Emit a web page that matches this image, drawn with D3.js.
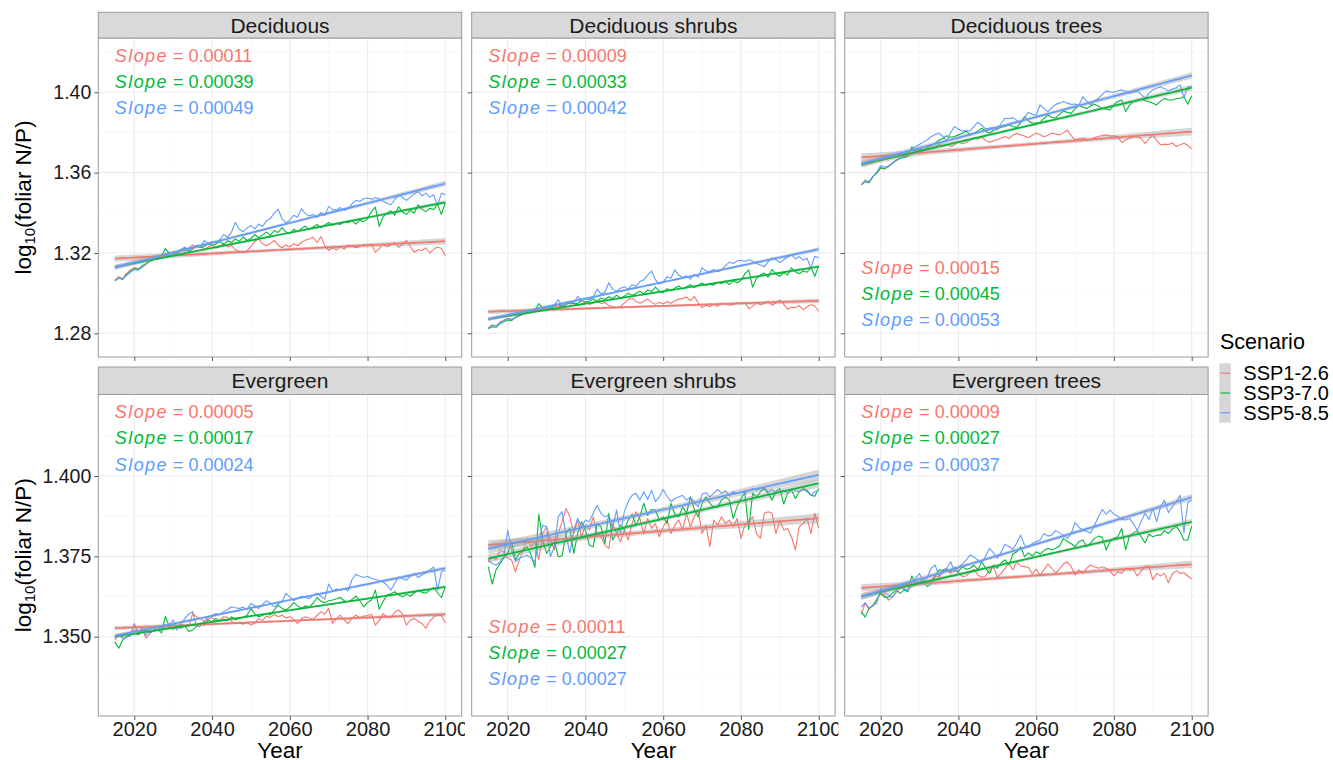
<!DOCTYPE html>
<html>
<head>
<meta charset="utf-8">
<script src="https://cdn.jsdelivr.net/npm/d3@7"></script>
<style>
  body { margin: 0; background: #fff; }
  svg text { font-family: "Liberation Sans", Arial, sans-serif; }
</style>
</head>
<body>
<div id="chart"></div>
<script>
// ---- data ----
var years = d3.range(2015, 2101);

var facetNames = ["Deciduous", "Deciduous shrubs", "Deciduous trees",
                  "Evergreen", "Evergreen shrubs", "Evergreen trees"];
var scenarios = ["SSP1-2.6", "SSP3-7.0", "SSP5-8.5"];

var slopeLabels = [
  ["0.00011", "0.00039", "0.00049"],
  ["0.00009", "0.00033", "0.00042"],
  ["0.00015", "0.00045", "0.00053"],
  ["0.00005", "0.00017", "0.00024"],
  ["0.00011", "0.00027", "0.00027"],
  ["0.00009", "0.00027", "0.00037"]
];

var xTicks = [2020, 2040, 2060, 2080, 2100];
var xMinor = [2030, 2050, 2070, 2090];
var row1Ticks = [1.28, 1.32, 1.36, 1.40];
var row1Labels = ["1.28", "1.32", "1.36", "1.40"];
var row1Minor = [1.30, 1.34, 1.38, 1.42];
var row2Ticks = [1.350, 1.375, 1.400];
var row2Labels = ["1.350", "1.375", "1.400"];
var row2Minor = [1.3375, 1.3625, 1.3875, 1.4125];

var deciduous_126 = [1.3064,1.3082,1.3072,1.3098,1.3115,1.3128,1.3122,1.3128,1.3142,1.3158,
  1.3166,1.3175,1.3186,1.3192,1.3200,1.3196,1.3206,1.3214,1.3208,1.3224,
  1.3240,1.3228,1.3236,1.3220,1.3228,1.3238,1.3224,1.3232,1.3246,1.3230,
  1.3238,1.3216,1.3208,1.3202,1.3210,1.3232,1.3258,1.3270,1.3246,1.3236,
  1.3248,1.3262,1.3240,1.3226,1.3240,1.3230,1.3246,1.3236,1.3252,1.3264,
  1.3270,1.3278,1.3252,1.3282,1.3238,1.3212,1.3226,1.3214,1.3230,1.3218,
  1.3240,1.3236,1.3226,1.3232,1.3242,1.3238,1.3244,1.3204,1.3220,1.3246,
  1.3230,1.3240,1.3252,1.3228,1.3244,1.3262,1.3232,1.3204,1.3216,1.3212,
  1.3226,1.3200,1.3218,1.3230,1.3222,1.3188];
var deciduous_370 = [1.3062,1.3076,1.3068,1.3092,1.3108,1.3122,1.3118,1.3135,1.3148,1.3160,
  1.3168,1.3176,1.3184,1.3222,1.3198,1.3204,1.3196,1.3212,1.3222,1.3206,
  1.3220,1.3236,1.3226,1.3232,1.3246,1.3238,1.3244,1.3258,1.3242,1.3262,
  1.3252,1.3270,1.3258,1.3280,1.3262,1.3272,1.3292,1.3276,1.3290,1.3304,
  1.3288,1.3312,1.3302,1.3326,1.3304,1.3296,1.3318,1.3306,1.3322,1.3334,
  1.3316,1.3330,1.3342,1.3326,1.3340,1.3352,1.3338,1.3348,1.3342,1.3356,
  1.3350,1.3362,1.3344,1.3364,1.3356,1.3370,1.3406,1.3428,1.3332,1.3380,
  1.3398,1.3410,1.3388,1.3430,1.3404,1.3392,1.3412,1.3398,1.3440,1.3418,
  1.3406,1.3422,1.3416,1.3442,1.3392,1.3450];
var deciduous_585 = [1.3060,1.3074,1.3070,1.3088,1.3104,1.3118,1.3114,1.3130,1.3146,1.3158,
  1.3172,1.3168,1.3182,1.3196,1.3190,1.3206,1.3198,1.3218,1.3230,1.3212,
  1.3222,1.3236,1.3228,1.3262,1.3248,1.3256,1.3252,1.3266,1.3292,1.3278,
  1.3304,1.3352,1.3318,1.3306,1.3324,1.3336,1.3320,1.3344,1.3332,1.3360,
  1.3372,1.3398,1.3418,1.3370,1.3350,1.3362,1.3388,1.3378,1.3420,1.3396,
  1.3384,1.3392,1.3376,1.3402,1.3386,1.3432,1.3416,1.3414,1.3426,1.3412,
  1.3420,1.3444,1.3462,1.3456,1.3470,1.3474,1.3468,1.3476,1.3470,1.3458,
  1.3448,1.3440,1.3466,1.3488,1.3476,1.3462,1.3478,1.3494,1.3506,1.3484,
  1.3498,1.3478,1.3490,1.3436,1.3498,1.3490];

var decShrubs_126 = [1.2827,1.2842,1.2836,1.2856,1.2866,1.2874,1.2870,1.2878,1.2886,1.2896,
  1.2900,1.2906,1.2914,1.2918,1.2924,1.2920,1.2928,1.2934,1.2930,1.2942,
  1.2954,1.2946,1.2950,1.2940,1.2946,1.2954,1.2944,1.2950,1.2960,1.2948,
  1.2954,1.2938,1.2932,1.2928,1.2934,1.2950,1.2968,1.2976,1.2958,1.2950,
  1.2960,1.2970,1.2954,1.2944,1.2954,1.2946,1.2958,1.2950,1.2962,1.2970,
  1.2974,1.2980,1.2962,1.2984,1.2952,1.2928,1.2940,1.2932,1.2944,1.2934,
  1.2950,1.2948,1.2940,1.2944,1.2952,1.2948,1.2954,1.2922,1.2934,1.2954,
  1.2942,1.2950,1.2960,1.2940,1.2952,1.2966,1.2944,1.2920,1.2930,1.2928,
  1.2938,1.2918,1.2932,1.2942,1.2936,1.2910];
var decShrubs_370 = [1.2823,1.2832,1.2830,1.2848,1.2858,1.2866,1.2864,1.2878,1.2888,1.2896,
  1.2900,1.2906,1.2912,1.2948,1.2924,1.2930,1.2922,1.2936,1.2944,1.2930,
  1.2942,1.2954,1.2946,1.2950,1.2962,1.2956,1.2960,1.2972,1.2958,1.2976,
  1.2968,1.2982,1.2972,1.2990,1.2976,1.2984,1.3000,1.2988,1.2998,1.3010,
  1.2996,1.3016,1.3008,1.3030,1.3010,1.3002,1.3022,1.3012,1.3026,1.3036,
  1.3020,1.3032,1.3042,1.3028,1.3040,1.3050,1.3038,1.3046,1.3040,1.3054,
  1.3048,1.3058,1.3042,1.3060,1.3052,1.3064,1.3096,1.3116,1.3030,1.3074,
  1.3090,1.3100,1.3080,1.3118,1.3094,1.3084,1.3102,1.3090,1.3126,1.3106,
  1.3096,1.3110,1.3104,1.3128,1.3084,1.3136];
var decShrubs_585 = [1.2826,1.2840,1.2836,1.2850,1.2862,1.2872,1.2868,1.2880,1.2892,1.2900,
  1.2908,1.2904,1.2914,1.2924,1.2918,1.2930,1.2924,1.2940,1.2968,1.2936,
  1.2946,1.2958,1.2950,1.2984,1.2966,1.2972,1.2968,1.2980,1.3020,1.2996,
  1.3004,1.3052,1.3020,1.3010,1.3024,1.3032,1.3020,1.3042,1.3034,1.3058,
  1.3066,1.3090,1.3110,1.3066,1.3046,1.3056,1.3082,1.3074,1.3116,1.3090,
  1.3078,1.3086,1.3070,1.3094,1.3080,1.3126,1.3110,1.3108,1.3118,1.3106,
  1.3114,1.3136,1.3154,1.3148,1.3160,1.3164,1.3158,1.3166,1.3160,1.3148,
  1.3140,1.3132,1.3156,1.3176,1.3166,1.3152,1.3166,1.3180,1.3190,1.3170,
  1.3182,1.3164,1.3174,1.3124,1.3184,1.3176];

var decTrees_126 = [1.3539,1.3563,1.3552,1.3580,1.3600,1.3622,1.3618,1.3635,1.3648,1.3663,
  1.3672,1.3680,1.3686,1.3692,1.3700,1.3705,1.3712,1.3718,1.3722,1.3728,
  1.3740,1.3732,1.3742,1.3730,1.3738,1.3754,1.3744,1.3750,1.3762,1.3772,
  1.3766,1.3778,1.3760,1.3752,1.3758,1.3764,1.3772,1.3780,1.3770,1.3786,
  1.3796,1.3788,1.3782,1.3774,1.3786,1.3796,1.3790,1.3778,1.3786,1.3796,
  1.3792,1.3788,1.3798,1.3812,1.3784,1.3762,1.3770,1.3772,1.3766,1.3762,
  1.3774,1.3780,1.3786,1.3788,1.3782,1.3784,1.3778,1.3750,1.3762,1.3772,
  1.3778,1.3780,1.3770,1.3746,1.3768,1.3788,1.3760,1.3738,1.3742,1.3740,
  1.3748,1.3730,1.3738,1.3746,1.3736,1.3718];
var decTrees_370 = [1.3539,1.3555,1.3550,1.3580,1.3598,1.3625,1.3620,1.3630,1.3646,1.3660,
  1.3671,1.3676,1.3680,1.3729,1.3708,1.3718,1.3712,1.3726,1.3734,1.3746,
  1.3763,1.3770,1.3784,1.3776,1.3780,1.3788,1.3796,1.3807,1.3790,1.3796,
  1.3808,1.3821,1.3806,1.3796,1.3810,1.3817,1.3826,1.3830,1.3837,1.3830,
  1.3824,1.3850,1.3879,1.3858,1.3846,1.3848,1.3851,1.3870,1.3887,1.3876,
  1.3871,1.3890,1.3907,1.3900,1.3895,1.3918,1.3937,1.3926,1.3920,1.3932,
  1.3940,1.3930,1.3920,1.3916,1.3912,1.3940,1.3954,1.3962,1.3904,1.3936,
  1.3954,1.3960,1.3967,1.3958,1.3954,1.3946,1.3937,1.3956,1.3970,1.3962,
  1.3962,1.3968,1.3970,1.3978,1.3940,1.3983];
var decTrees_585 = [1.3539,1.3560,1.3556,1.3580,1.3604,1.3635,1.3628,1.3630,1.3648,1.3663,
  1.3672,1.3680,1.3700,1.3718,1.3730,1.3741,1.3752,1.3764,1.3779,1.3790,
  1.3796,1.3780,1.3758,1.3800,1.3829,1.3816,1.3807,1.3810,1.3807,1.3830,
  1.3851,1.3836,1.3817,1.3822,1.3824,1.3812,1.3846,1.3871,1.3868,1.3874,
  1.3860,1.3846,1.3876,1.3900,1.3890,1.3887,1.3937,1.3920,1.3904,1.3922,
  1.3940,1.3946,1.3954,1.3946,1.3940,1.3942,1.3937,1.3978,1.3956,1.3937,
  1.3958,1.3970,1.3990,1.4007,1.4002,1.4000,1.4006,1.4012,1.4004,1.3995,
  1.4002,1.4007,1.3990,1.3970,1.3996,1.4012,1.4020,1.4028,1.4018,1.4007,
  1.4016,1.4023,1.4037,1.3973,1.4028,1.4028];

var evergreen_126 = [1.3490,1.3505,1.3500,1.3510,1.3514,1.3521,1.3516,1.3526,1.3495,1.3510,
  1.3522,1.3531,1.3528,1.3523,1.3530,1.3536,1.3530,1.3539,1.3534,1.3531,
  1.3572,1.3562,1.3556,1.3547,1.3555,1.3560,1.3550,1.3552,1.3562,1.3560,
  1.3548,1.3541,1.3545,1.3539,1.3544,1.3536,1.3542,1.3557,1.3550,1.3564,
  1.3560,1.3570,1.3562,1.3567,1.3558,1.3562,1.3554,1.3541,1.3556,1.3562,
  1.3558,1.3554,1.3566,1.3578,1.3570,1.3588,1.3541,1.3556,1.3567,1.3552,
  1.3541,1.3558,1.3567,1.3560,1.3564,1.3566,1.3570,1.3536,1.3550,1.3572,
  1.3562,1.3560,1.3576,1.3583,1.3570,1.3536,1.3552,1.3557,1.3548,1.3541,
  1.3526,1.3548,1.3562,1.3566,1.3567,1.3543];
var evergreen_370 = [1.3484,1.3464,1.3490,1.3500,1.3506,1.3510,1.3506,1.3516,1.3520,1.3512,
  1.3518,1.3523,1.3512,1.3564,1.3531,1.3523,1.3530,1.3526,1.3534,1.3516,
  1.3521,1.3532,1.3541,1.3536,1.3552,1.3546,1.3557,1.3548,1.3554,1.3550,
  1.3562,1.3552,1.3557,1.3560,1.3567,1.3588,1.3570,1.3562,1.3566,1.3572,
  1.3568,1.3583,1.3598,1.3588,1.3583,1.3592,1.3606,1.3596,1.3588,1.3596,
  1.3593,1.3604,1.3622,1.3610,1.3606,1.3612,1.3614,1.3618,1.3622,1.3612,
  1.3609,1.3616,1.3626,1.3612,1.3593,1.3606,1.3614,1.3645,1.3585,1.3610,
  1.3629,1.3634,1.3640,1.3630,1.3624,1.3632,1.3626,1.3636,1.3645,1.3638,
  1.3635,1.3644,1.3653,1.3636,1.3622,1.3655];
var evergreen_585 = [1.3495,1.3508,1.3495,1.3498,1.3502,1.3541,1.3510,1.3521,1.3505,1.3519,
  1.3516,1.3523,1.3528,1.3531,1.3538,1.3552,1.3521,1.3541,1.3556,1.3570,
  1.3578,1.3531,1.3533,1.3548,1.3562,1.3566,1.3572,1.3568,1.3578,1.3584,
  1.3593,1.3590,1.3588,1.3592,1.3585,1.3603,1.3596,1.3588,1.3600,1.3612,
  1.3604,1.3593,1.3602,1.3609,1.3635,1.3624,1.3612,1.3620,1.3626,1.3622,
  1.3619,1.3628,1.3635,1.3626,1.3616,1.3664,1.3643,1.3648,1.3645,1.3650,
  1.3643,1.3678,1.3694,1.3688,1.3684,1.3688,1.3682,1.3678,1.3674,1.3671,
  1.3660,1.3645,1.3666,1.3686,1.3680,1.3676,1.3688,1.3697,1.3684,1.3692,
  1.3699,1.3708,1.3717,1.3645,1.3702,1.3707];

var evgShrubs_126 = [1.3733,1.3749,1.3739,1.3770,1.3764,1.3744,1.3739,1.3702,1.3739,1.3770,
  1.3806,1.3780,1.3796,1.3739,1.3821,1.3842,1.3801,1.3770,1.3821,1.3858,
  1.3899,1.3873,1.3821,1.3863,1.3811,1.3847,1.3832,1.3873,1.3821,1.3811,
  1.3785,1.3775,1.3852,1.3821,1.3796,1.3832,1.3801,1.3852,1.3889,1.3868,
  1.3821,1.3868,1.3837,1.3852,1.3811,1.3842,1.3863,1.3821,1.3847,1.3863,
  1.3832,1.3884,1.3842,1.3873,1.3894,1.3821,1.3847,1.3780,1.3863,1.3847,
  1.3873,1.3852,1.3863,1.3842,1.3868,1.3806,1.3847,1.3858,1.3873,1.3821,
  1.3806,1.3884,1.3889,1.3884,1.3821,1.3863,1.3832,1.3837,1.3811,1.3770,
  1.3842,1.3852,1.3868,1.3821,1.3884,1.3837];
var evgShrubs_370 = [1.3718,1.3664,1.3708,1.3728,1.3744,1.3759,1.3796,1.3739,1.3759,1.3770,
  1.3780,1.3754,1.3716,1.3881,1.3801,1.3759,1.3780,1.3796,1.3749,1.3751,
  1.3821,1.3837,1.3759,1.3821,1.3858,1.3832,1.3785,1.3780,1.3852,1.3842,
  1.3790,1.3884,1.3801,1.3821,1.3847,1.3832,1.3863,1.3881,1.3847,1.3873,
  1.3915,1.3878,1.3896,1.3894,1.3863,1.3873,1.3852,1.3915,1.3881,1.3873,
  1.3904,1.3884,1.3935,1.3896,1.3873,1.3915,1.3935,1.3915,1.3904,1.3904,
  1.3925,1.3935,1.3925,1.3868,1.3904,1.3930,1.3948,1.3834,1.3946,1.3935,
  1.3951,1.3961,1.3946,1.3925,1.3951,1.3961,1.3913,1.3946,1.3956,1.3930,
  1.3951,1.3961,1.3956,1.3940,1.3937,1.3961];
var evgShrubs_585 = [1.3739,1.3728,1.3723,1.3733,1.3749,1.3832,1.3770,1.3733,1.3744,1.3749,
  1.3754,1.3744,1.3733,1.3801,1.3847,1.3842,1.3749,1.3780,1.3873,1.3889,
  1.3816,1.3761,1.3832,1.3868,1.3842,1.3863,1.3858,1.3884,1.3909,1.3884,
  1.3873,1.3878,1.3837,1.3894,1.3821,1.3889,1.3920,1.3940,1.3946,1.3925,
  1.3951,1.3927,1.3956,1.3920,1.3935,1.3958,1.3937,1.3920,1.3930,1.3935,
  1.3940,1.3925,1.3935,1.3917,1.3904,1.3944,1.3948,1.3935,1.3946,1.3958,
  1.3946,1.3954,1.3940,1.3951,1.3946,1.3951,1.3948,1.3954,1.3961,1.3956,
  1.3961,1.3964,1.3951,1.3958,1.3946,1.3951,1.3956,1.3946,1.3961,1.3954,
  1.3951,1.3958,1.3951,1.3940,1.3951,1.3956];

var evgTrees_126 = [1.3571,1.3604,1.3585,1.3599,1.3614,1.3635,1.3630,1.3614,1.3623,1.3637,
  1.3654,1.3648,1.3645,1.3656,1.3664,1.3671,1.3664,1.3668,1.3677,1.3689,
  1.3685,1.3699,1.3705,1.3697,1.3705,1.3699,1.3687,1.3689,1.3702,1.3710,
  1.3692,1.3685,1.3689,1.3708,1.3718,1.3685,1.3697,1.3713,1.3728,1.3708,
  1.3733,1.3720,1.3718,1.3716,1.3695,1.3710,1.3692,1.3708,1.3726,1.3713,
  1.3699,1.3710,1.3726,1.3733,1.3718,1.3692,1.3708,1.3697,1.3713,1.3723,
  1.3718,1.3713,1.3718,1.3713,1.3705,1.3689,1.3702,1.3697,1.3713,1.3708,
  1.3710,1.3689,1.3705,1.3718,1.3720,1.3677,1.3697,1.3689,1.3697,1.3668,
  1.3695,1.3705,1.3697,1.3699,1.3689,1.3679];
var evgTrees_370 = [1.3578,1.3561,1.3589,1.3596,1.3616,1.3635,1.3623,1.3623,1.3635,1.3645,
  1.3635,1.3645,1.3640,1.3689,1.3666,1.3671,1.3677,1.3656,1.3666,1.3687,
  1.3708,1.3705,1.3710,1.3702,1.3716,1.3702,1.3718,1.3710,1.3713,1.3723,
  1.3708,1.3733,1.3713,1.3697,1.3723,1.3713,1.3730,1.3739,1.3723,1.3757,
  1.3764,1.3780,1.3749,1.3761,1.3751,1.3764,1.3757,1.3768,1.3775,1.3770,
  1.3775,1.3782,1.3806,1.3796,1.3790,1.3780,1.3796,1.3801,1.3780,1.3792,
  1.3806,1.3813,1.3809,1.3770,1.3796,1.3806,1.3811,1.3837,1.3770,1.3813,
  1.3823,1.3830,1.3811,1.3792,1.3819,1.3811,1.3816,1.3816,1.3830,1.3821,
  1.3834,1.3844,1.3827,1.3801,1.3801,1.3844];
var evgTrees_585 = [1.3592,1.3606,1.3589,1.3596,1.3604,1.3651,1.3637,1.3630,1.3623,1.3640,
  1.3656,1.3648,1.3645,1.3671,1.3682,1.3697,1.3668,1.3685,1.3713,1.3723,
  1.3687,1.3708,1.3713,1.3733,1.3702,1.3716,1.3726,1.3739,1.3754,1.3747,
  1.3739,1.3728,1.3751,1.3775,1.3761,1.3744,1.3764,1.3788,1.3780,1.3772,
  1.3792,1.3816,1.3785,1.3778,1.3790,1.3796,1.3801,1.3821,1.3813,1.3816,
  1.3830,1.3823,1.3816,1.3806,1.3821,1.3855,1.3840,1.3832,1.3827,1.3823,
  1.3847,1.3873,1.3896,1.3881,1.3894,1.3881,1.3875,1.3865,1.3863,1.3868,
  1.3852,1.3830,1.3858,1.3884,1.3865,1.3899,1.3858,1.3904,1.3925,1.3886,
  1.3904,1.3920,1.3940,1.3823,1.3917,1.3925];

var facetSeries = [
  [deciduous_126, deciduous_370, deciduous_585],
  [decShrubs_126, decShrubs_370, decShrubs_585],
  [decTrees_126, decTrees_370, decTrees_585],
  [evergreen_126, evergreen_370, evergreen_585],
  [evgShrubs_126, evgShrubs_370, evgShrubs_585],
  [evgTrees_126, evgTrees_370, evgTrees_585]
];

// ---- layout ----
var colors = ["#F8766D", "#00BA38", "#619CFF"];
var svgWidth = 1333, svgHeight = 760;
var panelLeft = [98.3, 471.7, 844.7];
var panelWidth = 363.4;
var rows = [
  { stripTop: 12.3, panelTop: 38, panelBottom: 357,
    y: d3.scaleLinear().domain([1.28, 1.40]).range([333.3, 92.3]),
    ticks: row1Ticks, labels: row1Labels, minor: row1Minor },
  { stripTop: 367, panelTop: 394.5, panelBottom: 716,
    y: d3.scaleLinear().domain([1.35, 1.40]).range([636.7, 476]),
    ticks: row2Ticks, labels: row2Labels, minor: row2Minor }
];
var labelPlace = ["top", "top", "bottom", "top", "bottom", "top"];
var font = "'Liberation Sans', Arial, sans-serif";

var svg = d3.select("#chart").append("svg")
  .attr("width", svgWidth)
  .attr("height", svgHeight)
  .style("background", "#fff");

var defs = svg.append("defs");

// linear fit with 95% confidence band, like geom_smooth(method = "lm")
function lmFit(xs, ys) {
  var n = xs.length;
  var mx = d3.mean(xs), my = d3.mean(ys);
  var sxx = d3.sum(xs, function(x) { return (x - mx) * (x - mx); });
  var sxy = d3.sum(xs, function(x, i) { return (x - mx) * (ys[i] - my); });
  var b = sxy / sxx, a = my - b * mx;
  var sse = d3.sum(xs, function(x, i) { var r = ys[i] - (a + b * x); return r * r; });
  var s = Math.sqrt(sse / (n - 2));
  var t = 1.9886;
  return xs.map(function(x) {
    var f = a + b * x;
    var se = s * Math.sqrt(1 / n + (x - mx) * (x - mx) / sxx);
    return { x: x, fit: f, lo: f - t * se, hi: f + t * se };
  });
}

facetNames.forEach(function(name, fi) {
  var r = Math.floor(fi / 3), c = fi % 3;
  var row = rows[r];
  var left = panelLeft[c], right = left + panelWidth;
  var top = row.panelTop, bottom = row.panelBottom;
  var y = row.y;
  var x = d3.scaleLinear().domain([2020, 2100]).range([left + 36, left + 347]);

  var g = svg.append("g");

  // panel background + grid
  g.append("rect").attr("x", left).attr("y", top)
    .attr("width", panelWidth).attr("height", bottom - top).attr("fill", "#fff");

  g.selectAll(".ymin").data(row.minor).enter().append("line")
    .attr("x1", left).attr("x2", right)
    .attr("y1", function(d) { return y(d); }).attr("y2", function(d) { return y(d); })
    .attr("stroke", "#f4f4f4").attr("stroke-width", 0.6);
  g.selectAll(".xmin").data(xMinor).enter().append("line")
    .attr("y1", top).attr("y2", bottom)
    .attr("x1", function(d) { return x(d); }).attr("x2", function(d) { return x(d); })
    .attr("stroke", "#f4f4f4").attr("stroke-width", 0.6);
  g.selectAll(".ymaj").data(row.ticks).enter().append("line")
    .attr("x1", left).attr("x2", right)
    .attr("y1", function(d) { return y(d); }).attr("y2", function(d) { return y(d); })
    .attr("stroke", "#ebebeb").attr("stroke-width", 1.1);
  g.selectAll(".xmaj").data(xTicks).enter().append("line")
    .attr("y1", top).attr("y2", bottom)
    .attr("x1", function(d) { return x(d); }).attr("x2", function(d) { return x(d); })
    .attr("stroke", "#ebebeb").attr("stroke-width", 1.1);

  defs.append("clipPath").attr("id", "clip" + fi)
    .append("rect").attr("x", left).attr("y", top)
    .attr("width", panelWidth).attr("height", bottom - top);

  var plot = g.append("g").attr("clip-path", "url(#clip" + fi + ")");

  var line = d3.line()
    .x(function(d, i) { return x(years[i]); })
    .y(function(d) { return y(d); });

  // raw yearly lines
  facetSeries[fi].forEach(function(vals, si) {
    plot.append("path")
      .datum(vals)
      .attr("d", line)
      .attr("fill", "none")
      .attr("stroke", colors[si])
      .attr("stroke-width", 1.1)
      .attr("stroke-linejoin", "round");
  });

  // regression ribbons + lines
  facetSeries[fi].forEach(function(vals, si) {
    var fit = lmFit(years, vals);
    plot.append("path")
      .datum(fit)
      .attr("d", d3.area()
        .x(function(d) { return x(d.x); })
        .y0(function(d) { return y(d.lo); })
        .y1(function(d) { return y(d.hi); }))
      .attr("fill", "#999999")
      .attr("fill-opacity", 0.4);
    plot.append("path")
      .datum(fit)
      .attr("d", d3.line()
        .x(function(d) { return x(d.x); })
        .y(function(d) { return y(d.fit); }))
      .attr("fill", "none")
      .attr("stroke", colors[si])
      .attr("stroke-width", 1.7);
  });

  // slope annotations
  slopeLabels[fi].forEach(function(lab, si) {
    var base = labelPlace[fi] === "top" ? top + 23.5 : bottom - 83.5;
    var t = g.append("text")
      .attr("x", x(2015))
      .attr("y", base + si * 26.3)
      .attr("fill", colors[si])
      .attr("font-size", 18)
      .attr("font-family", font);
    t.append("tspan").attr("font-style", "italic").attr("letter-spacing", 1.4).text("Slope");
    t.append("tspan").text(" = " + lab);
  });

  // panel border
  g.append("rect").attr("x", left).attr("y", top)
    .attr("width", panelWidth).attr("height", bottom - top)
    .attr("fill", "none").attr("stroke", "#9a9a9a").attr("stroke-width", 1);

  // strip
  g.append("rect").attr("x", left).attr("y", row.stripTop)
    .attr("width", panelWidth).attr("height", top - row.stripTop)
    .attr("fill", "#d9d9d9").attr("stroke", "#9a9a9a").attr("stroke-width", 1);
  g.append("text")
    .attr("x", left + panelWidth / 2)
    .attr("y", (row.stripTop + top) / 2 + 7.4)
    .attr("text-anchor", "middle")
    .attr("font-size", 21)
    .attr("font-family", font)
    .attr("fill", "#1a1a1a")
    .text(name);

  // y axis (labels on first column only)
  var yAxis = d3.axisLeft(y).tickValues(row.ticks).tickSize(4).tickPadding(3)
    .tickFormat(function(d, i) { return c === 0 ? row.labels[i] : ""; });
  var ya = g.append("g").attr("transform", "translate(" + left + ",0)").call(yAxis);
  ya.select(".domain").remove();
  ya.selectAll("line").attr("stroke", "#555");
  ya.selectAll("text").attr("font-size", 19.5).attr("font-family", font).attr("fill", "#1a1a1a");

  // x axis (labels on bottom row only)
  var xAxis = d3.axisBottom(x).tickValues(xTicks).tickSize(4).tickPadding(2)
    .tickFormat(function(d) { return r === 1 ? String(d) : ""; });
  var xa = g.append("g").attr("transform", "translate(0," + bottom + ")").call(xAxis);
  xa.select(".domain").remove();
  xa.selectAll("line").attr("stroke", "#555");
  xa.selectAll("text").attr("font-size", 20).attr("font-family", font).attr("fill", "#1a1a1a");
  if (r === 1 && c < 2) {
    // tick labels of the inner columns are cut at the cell edge, as in the original
    defs.append("clipPath").attr("id", "xclip" + fi)
      .append("rect").attr("x", left - 40).attr("y", -2)
      .attr("width", panelWidth + 43.3).attr("height", 40);
    xa.attr("clip-path", "url(#xclip" + fi + ")");
  }

  if (r === 1) {
    g.append("text")
      .attr("x", left + panelWidth / 2)
      .attr("y", 757.5)
      .attr("text-anchor", "middle")
      .attr("font-size", 22.5)
      .attr("font-family", font)
      .attr("fill", "#000")
      .text("Year");
  }
});

// y axis titles
rows.forEach(function(row) {
  var cy = (row.panelTop + row.panelBottom) / 2;
  var t = svg.append("text")
    .attr("transform", "translate(31," + cy + ") rotate(-90)")
    .attr("text-anchor", "middle")
    .attr("font-size", 22.5)
    .attr("font-family", font)
    .attr("fill", "#000");
  t.append("tspan").text("log");
  t.append("tspan").attr("font-size", 15).attr("dy", 4).text("10");
  t.append("tspan").attr("dy", -4).text("(foliar N/P)");
});

// legend
var legend = svg.append("g");
legend.append("text")
  .attr("x", 1220).attr("y", 349.3)
  .attr("font-size", 21.5).attr("font-family", font).attr("fill", "#000")
  .text("Scenario");
scenarios.forEach(function(s, i) {
  var ky = 363.3 + i * 19.8;
  legend.append("rect")
    .attr("x", 1219.3).attr("y", ky)
    .attr("width", 11.4).attr("height", 19.8)
    .attr("fill", "#d6d6d6");
  legend.append("line")
    .attr("x1", 1220.5).attr("x2", 1229.8)
    .attr("y1", ky + 9.9).attr("y2", ky + 9.9)
    .attr("stroke", colors[i]).attr("stroke-width", 1.2);
  legend.append("text")
    .attr("x", 1243.3).attr("y", ky + 9.9 + 7)
    .attr("font-size", 20).attr("font-family", font).attr("fill", "#000")
    .text(s);
});
</script>
</body>
</html>
